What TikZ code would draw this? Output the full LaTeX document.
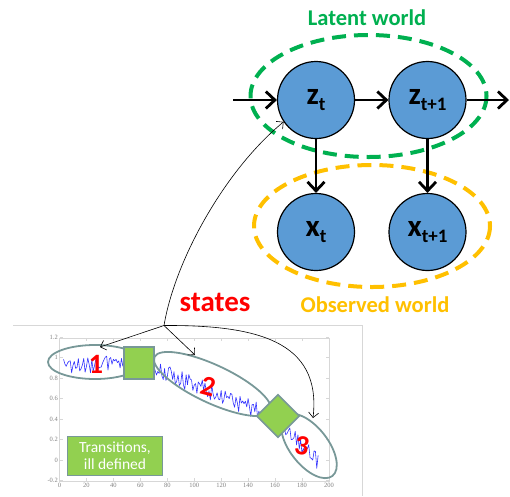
\documentclass[tikz,border=0pt]{standalone}
\usepackage{fontspec}
\setmainfont{Carlito}
\newfontfamily\tickfont{Liberation Serif}
\usetikzlibrary{arrows.meta}
\definecolor{latent}{RGB}{0,176,80}
\definecolor{observed}{RGB}{255,192,0}
\definecolor{nodeblue}{RGB}{91,155,213}
\definecolor{boxgreen}{RGB}{146,208,80}
\definecolor{segline}{RGB}{120,152,152}
\definecolor{sigblue}{RGB}{50,50,255}
\definecolor{framegray}{RGB}{215,215,215}
\newcommand\sublab[2]{#1\raisebox{-0.45ex}{\fontsize{19}{19}\selectfont #2}}
\begin{document}
\begin{tikzpicture}[x=1pt,y=-1pt,
  declare function={tr(\s)=(\s<70)?0.93:((\s<160)?(0.9-(\s-70)*0.0055):(0.405-(\s-160)*0.013));},
  var/.style={circle,draw=black,line width=1.2pt,fill=nodeblue,minimum size=77pt,inner sep=0pt,
    font=\fontsize{31}{31}\selectfont\bfseries},
  flow/.style={line width=2.8pt,-{Straight Barb[length=9pt,width=17pt]}},
  worldline/.style={line width=4pt,dash pattern=on 14pt off 8pt},
  worldlabel/.style={font=\fontsize{22.5}{22.5}\selectfont\bfseries},
  pointer/.style={line width=0.6pt,-{Straight Barb[length=5pt,width=10pt]}},
  segment/.style={draw=segline,line width=1.8pt},
  transbox/.style={draw=segline,line width=1.5pt,fill=boxgreen,inner sep=0pt},
  segnum/.style={text=red,font=\fontsize{28}{28}\selectfont\bfseries},
  ticklabel/.style={text=gray,font=\tickfont\fontsize{6.5}{6.5}\selectfont,inner sep=1pt},
]
\useasboundingbox (0,0) rectangle (510,496);

% ---------- world ellipses ----------
\draw[worldline,latent] (368.5,96) ellipse [x radius=118, y radius=61];
\draw[worldline,observed] (372,226) ellipse [x radius=118, y radius=61];
\node[worldlabel,text=latent] (lat) at (367,18) {Latent world};
\node[worldlabel,text=observed] (obs) at (375,305) {Observed world};

% ---------- graphical model ----------
\node[var] (zt) at (316,100) {\sublab{z}{t}};
\node[var] (zt1) at (427.5,100) {\sublab{z}{t+1}};
\node[var] (xt) at (316,232) {\sublab{x}{t}};
\node[var] (xt1) at (427.5,232) {\sublab{x}{t+1}};
\coordinate (inz) at (233,100);
\coordinate (outz) at (509,100);
\draw[flow] (inz) -- (zt);
\draw[flow] (zt) -- (zt1);
\draw[flow] (zt1) -- (outz);
\draw[flow] (zt) -- (xt);
\draw[flow] (zt1) -- (xt1);

% ---------- states label ----------
\node[text=red,font=\fontsize{29}{29}\selectfont\bfseries] (st) at (215,302) {states};

% ---------- plot image ----------
\draw[framegray,line width=0.7pt] (13,325.5) -- (362.7,325.5) -- (362.7,496);
\draw[framegray,line width=0.5pt] (59.5,338) rectangle (329,481);
\foreach \v/\lab in {1.2/1.2,1/1,0.8/0.8,0.6/0.6,0.4/0.4,0.2/0.2,0/0,-0.2/-0.2}{
  \draw[framegray,line width=0.4pt] (59.5,{460-102.5*\v}) -- (62.5,{460-102.5*\v});
  \draw[framegray,line width=0.4pt] (329,{460-102.5*\v}) -- (326,{460-102.5*\v});
  \node[ticklabel,anchor=east] at (59,{460-102.5*\v}) {\lab};
}
\foreach \t in {0,20,...,200}{
  \draw[framegray,line width=0.4pt] ({59.5+1.347*\t},481) -- ({59.5+1.347*\t},478);
  \draw[framegray,line width=0.4pt] ({59.5+1.347*\t},338) -- ({59.5+1.347*\t},341);
  \node[ticklabel,anchor=north] at ({59.5+1.347*\t},482) {\t};
}
\pgfmathsetseed{4242}
\draw[sigblue,line width=0.6pt,line join=round]
  plot[domain=3:192,samples=190,variable=\s] ({59.5+1.347*\s},{460-102.5*(tr(\s)+0.085*rand)});

% segments
\draw[segment] (95,362) ellipse [x radius=47, y radius=17];
\draw[segment,rotate around={-25:(212.5,384)}] (212.5,384) ellipse [x radius=64, y radius=19];
\draw[segment,rotate around={-52:(309,446)}] (309,446) ellipse [x radius=38, y radius=19];

\node[segnum] (n1) at (96,364) {1};
\node[segnum,rotate=-15] (n2) at (208,386) {2};
\node[segnum,rotate=-10] (n3) at (302,446) {3};

% transitions
\node[transbox,minimum width=30pt,minimum height=32pt] (tr1) at (139,363) {};
\node[transbox,minimum width=30pt,minimum height=30pt,rotate=45] (tr2) at (278,416) {};
\node[transbox,minimum width=95pt,minimum height=39pt,align=center,text=white,
  font=\fontsize{15.5}{17}\selectfont] (tbox) at (115,456) {Transitions,\\ill defined};

% ---------- pointers ----------
\coordinate (j) at (164,325.5);
\coordinate (e1) at (100,347);
\coordinate (e2) at (195,355);
\coordinate (e3) at (313,418);
\draw[pointer] (j) .. controls (175,260) and (225,170) .. (zt.214);
\draw[pointer] (j) -- (e1);
\draw[pointer] (j) -- (e2);
\draw[pointer] (j) .. controls (255,325) and (322,340) .. (e3);
\end{tikzpicture}
\end{document}
